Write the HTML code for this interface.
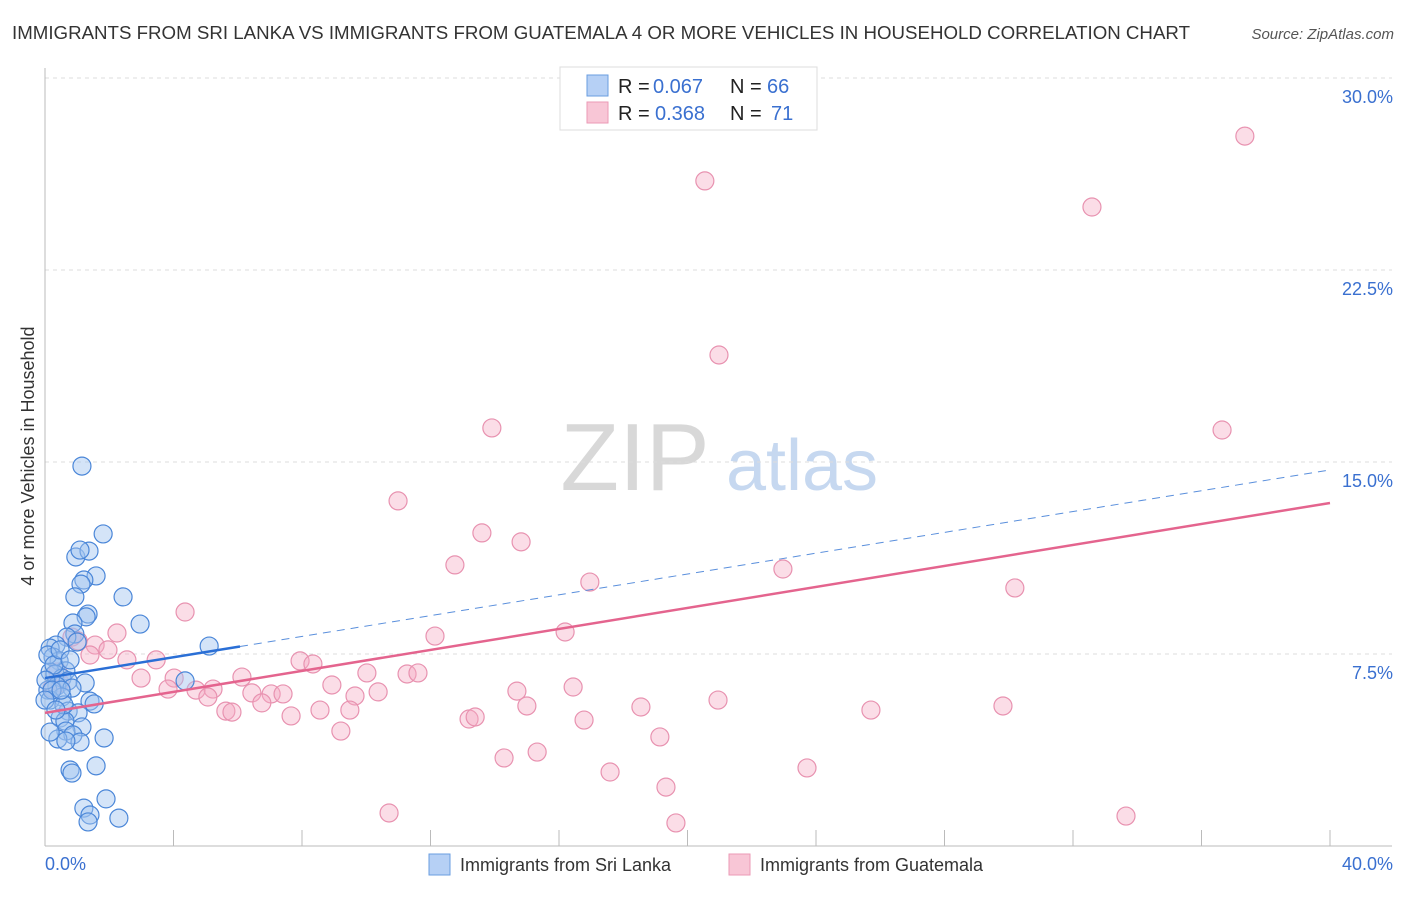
<!DOCTYPE html>
<html><head><meta charset="utf-8"><style>
body{margin:0;background:#fff;width:1406px;height:892px;overflow:hidden;font-family:"Liberation Sans",sans-serif;}
svg text{font-family:"Liberation Sans",sans-serif;}
</style></head><body>
<svg id="chart" width="1406" height="892" xmlns="http://www.w3.org/2000/svg">
<text x="12" y="39" font-size="18" fill="#333" textLength="1178" lengthAdjust="spacingAndGlyphs">IMMIGRANTS FROM SRI LANKA VS IMMIGRANTS FROM GUATEMALA 4 OR MORE VEHICLES IN HOUSEHOLD CORRELATION CHART</text>
<text x="1394" y="39" font-size="15" fill="#555" text-anchor="end" font-style="italic">Source: ZipAtlas.com</text>
<text x="635" y="490" font-size="96" fill="#d8d8d8" text-anchor="middle" font-family="Liberation Serif, serif">ZIP</text>
<text x="802" y="490" font-size="72" fill="#c6d8f0" text-anchor="middle">atlas</text>
<text transform="translate(34,456) rotate(-90)" font-size="18" fill="#333" text-anchor="middle">4 or more Vehicles in Household</text>
<g id="grid"></g><g id="axes"></g><g id="pink"></g><g id="blue"></g><g id="trends"></g>
<g>
<rect x="560" y="67" width="257" height="63" fill="#fff" stroke="#ddd"/>
<rect x="587" y="75" width="21" height="21" fill="#b6d0f5" stroke="#6a9ee0"/>
<rect x="587" y="102" width="21" height="21" fill="#f8c6d6" stroke="#eb9ab6"/>
<text x="618" y="93" font-size="20" fill="#222">R =</text>
<text x="653" y="93" font-size="20" fill="#3a70d0">0.067</text>
<text x="730" y="93" font-size="20" fill="#222">N =</text>
<text x="767" y="93" font-size="20" fill="#3a70d0">66</text>
<text x="618" y="120" font-size="20" fill="#222">R =</text>
<text x="655" y="120" font-size="20" fill="#3a70d0">0.368</text>
<text x="730" y="120" font-size="20" fill="#222">N =</text>
<text x="771" y="120" font-size="20" fill="#3a70d0">71</text>
</g>
<g>
<rect x="429" y="854" width="21" height="21" fill="#b6d0f5" stroke="#6a9ee0"/>
<text x="460" y="871" font-size="18" fill="#333">Immigrants from Sri Lanka</text>
<rect x="729" y="854" width="21" height="21" fill="#f8c6d6" stroke="#eb9ab6"/>
<text x="760" y="871" font-size="18" fill="#333">Immigrants from Guatemala</text>
</g>
</svg>
<script>
const blueX=[1.15,1.81,0.96,1.37,1.09,1.59,1.21,1.12,0.93,2.43,1.34,1.28,2.96,0.87,0.93,0.68,5.11,1.00,0.34,0.16,0.25,0.44,0.65,0.16,0.31,0.53,0.72,1.25,0.37,0.09,0.84,4.36,0.53,0.16,1.40,1.53,0.72,1.03,0.47,0.62,1.15,0.65,0.87,0.40,1.09,1.84,0.78,0.84,1.59,1.21,1.90,1.40,1.34,2.30,0.16,0.09,0.28,0.03,0.22,0.59,0.47,0.78,0.00,0.34,0.65,0.50];
const blueY=[14.84,12.19,11.29,11.52,11.56,10.55,10.39,10.23,9.73,9.73,9.06,8.95,8.67,8.71,8.28,8.16,7.81,7.97,7.85,7.73,7.38,7.23,6.84,6.80,6.72,6.56,6.45,6.37,6.25,6.09,6.17,6.45,5.82,5.70,5.66,5.55,5.27,5.20,5.00,4.88,4.65,4.49,4.34,4.18,4.06,4.22,2.97,2.85,3.13,1.48,1.84,1.21,0.94,1.09,4.45,7.46,7.07,6.48,6.09,5.51,7.66,7.27,5.70,5.31,4.10,6.09];
const pinkX=[37.35,20.54,32.59,20.98,13.91,36.64,10.99,13.60,14.82,12.76,22.97,16.96,30.19,4.36,16.19,12.14,2.24,0.84,1.03,1.56,1.96,1.40,2.55,3.46,7.94,8.34,10.02,11.27,11.61,2.99,4.02,6.13,8.93,3.83,5.23,4.70,7.04,6.44,7.41,14.69,16.44,9.65,10.37,5.07,6.75,5.63,5.82,7.66,8.56,9.49,15.00,18.55,20.95,25.71,29.82,13.20,13.39,16.78,9.21,19.14,15.32,14.29,17.59,23.72,19.33,10.71,19.64,33.65,0.47,0.22,0.40];
const pinkY=[27.73,25.98,24.96,19.18,16.33,16.25,13.48,12.23,11.88,10.98,10.82,10.31,10.08,9.14,8.36,8.20,8.32,8.16,8.01,7.85,7.66,7.46,7.27,7.27,7.23,7.11,6.76,6.72,6.76,6.56,6.56,6.60,6.29,6.13,6.13,6.09,5.94,5.98,5.94,6.05,6.21,5.86,6.02,5.82,5.59,5.27,5.23,5.08,5.31,5.31,5.47,5.43,5.70,5.31,5.47,4.96,5.04,4.92,4.49,4.26,3.67,3.44,2.89,3.05,2.30,1.29,0.90,1.17,6.37,6.17,6.80];
const yTicks=[7.5,15,22.5,30];
const yTickLabels=["7.5%","15.0%","22.5%","30.0%"];
const xTicks=[0,4,8,12,16,20,24,28,32,36,40];
const blueTrend=[6.56,14.69]; const blueSolidEnd=6.07;
const pinkTrend=[5.20,13.40];
const NS="http://www.w3.org/2000/svg";
const X=v=>45+v*32.125, Y=v=>846-v*25.6;
function mk(tag,attrs,parent){const e=document.createElementNS(NS,tag);for(const k in attrs)e.setAttribute(k,attrs[k]);document.getElementById(parent).appendChild(e);return e;}
yTicks.forEach((t,i)=>{
 const g=mk('line',{x1:45,x2:1392,y1:Y(t),y2:Y(t),stroke:'#ddd','stroke-dasharray':'4,4'},'grid');
 
 
 const l=mk('text',{x:1393,y:Y(t)+25,'font-size':18,fill:'#3a70d0','text-anchor':'end'},'grid');
 l.textContent=yTickLabels[i];
 
 
});
const ax=mk('line',{x1:45,x2:45,y1:68,y2:846,stroke:'#bbb'},'axes');


const bx=mk('line',{x1:45,x2:1392,y1:846,y2:846,stroke:'#bbb'},'axes');


xTicks.forEach(t=>{
 const tk=mk('line',{x1:X(t),x2:X(t),y1:830,y2:846,stroke:'#bbb'},'axes');
 
 
});
const xl0=mk('text',{x:45,y:870,'font-size':18,fill:'#3a70d0'},'axes');xl0.textContent='0.0%';


const xl1=mk('text',{x:1393,y:870,'font-size':18,fill:'#3a70d0','text-anchor':'end'},'axes');xl1.textContent='40.0%';


pinkX.forEach((x,i)=>{
 const c=mk('circle',{cx:X(x),cy:Y(pinkY[i]),r:9,fill:'rgba(244,170,195,0.4)',stroke:'#e892b0','stroke-width':1.2},'pink');
 
 
});
blueX.forEach((x,i)=>{
 const c=mk('circle',{cx:X(x),cy:Y(blueY[i]),r:9,fill:'rgba(160,196,240,0.45)',stroke:'#4a86d8','stroke-width':1.2},'blue');
 
 
});
const bs=blueTrend[0]+(blueTrend[1]-blueTrend[0])*blueSolidEnd/40;
const t1=mk('line',{x1:X(0),y1:Y(blueTrend[0]),x2:X(blueSolidEnd),y2:Y(bs),stroke:'#2a6fd6','stroke-width':2.5},'trends');


const t2=mk('line',{x1:X(blueSolidEnd),y1:Y(bs),x2:X(40),y2:Y(blueTrend[1]),stroke:'#5a8fdc','stroke-width':1,'stroke-dasharray':'8,6'},'trends');


const t3=mk('line',{x1:X(0),y1:Y(pinkTrend[0]),x2:X(40),y2:Y(pinkTrend[1]),stroke:'#e4648e','stroke-width':2.5},'trends');


</script>
</body></html>
